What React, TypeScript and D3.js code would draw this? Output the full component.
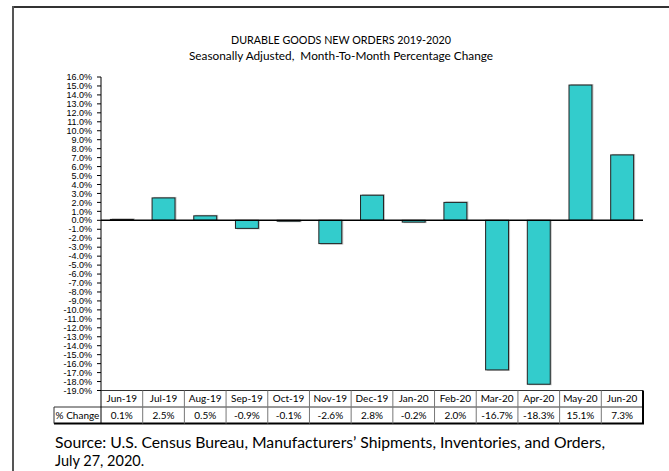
import React from "react";
import * as d3 from "d3";

const months = ["Jun-19","Jul-19","Aug-19","Sep-19","Oct-19","Nov-19","Dec-19","Jan-20","Feb-20","Mar-20","Apr-20","May-20","Jun-20"];
const changes = [0.1, 2.5, 0.5, -0.9, -0.1, -2.6, 2.8, -0.2, 2.0, -16.7, -18.3, 15.1, 7.3];
const yTicks = d3.range(-19, 17, 1);
const title = "DURABLE GOODS NEW ORDERS 2019-2020";
const subtitle = "Seasonally Adjusted,  Month-To-Month Percentage Change";
const rowLabel = "% Change";
const source1 = "Source: U.S. Census Bureau, Manufacturers\u2019 Shipments, Inventories, and Orders,";
const source2 = "July 27, 2020.";

const W = 669, H = 471;
const X0 = 101, X1 = 643;
const YT = 77, YB = 390.5;
const ROW1 = 407, ROW2 = 423.5;
const LABEL_X = 54;

const fmt = (v: number) => (v < 0 ? "-" : "") + Math.abs(v).toFixed(1) + "%";

export default function App() {
  const x = d3.scaleBand<string>().domain(months).range([X0, X1]).paddingInner(0.45).paddingOuter(0.225);
  const xc = d3.scaleBand<string>().domain(months).range([X0, X1]);
  const y = d3.scaleLinear().domain([-19, 16]).range([YB, YT]);
  const font = "Lato, 'Open Sans', sans-serif";
  return (
    <svg width={W} height={H} style={{ position: "absolute", left: 0, top: 0, background: "#fff" }}>
      <rect x={0} y={0} width={W} height={H} fill="#fff" />
      {/* outer frame */}
      <line x1={13} y1={7} x2={W} y2={7} stroke="#333" strokeWidth={1.8} />
      <line x1={13} y1={6} x2={13} y2={H} stroke="#555" strokeWidth={2} />
      <text x={341} y={44} textAnchor="middle" fontFamily={font} fontSize={11} textLength={220} lengthAdjust="spacingAndGlyphs" fill="#000">{title}</text>
      <text x={341} y={60} textAnchor="middle" fontFamily={font} fontSize={11} textLength={304} lengthAdjust="spacingAndGlyphs" fill="#000" style={{ whiteSpace: "pre" }}>{subtitle}</text>
      {/* y axis */}
      <line x1={X0} y1={YT} x2={X0} y2={YB} stroke="#000" strokeWidth={1} />
      {yTicks.map((t) => (
        <g key={t}>
          <line x1={X0 - 4} x2={X0} y1={y(t)} y2={y(t)} stroke="#000" strokeWidth={1} />
          <text x={92} y={y(t)} dy="0.35em" textAnchor="end" fontFamily="'Liberation Sans', Arial, sans-serif" fontSize={9} fill="#000">{fmt(t)}</text>
        </g>
      ))}
      {/* bars */}
      {months.map((m, i) => {
        const v = changes[i];
        const top = y(Math.max(0, v));
        const h = Math.abs(y(v) - y(0));
        return (
          <g key={m}>
            <rect x={(x(m) as number) + 1.5} y={top - (v > 0 ? 1 : 0)} width={x.bandwidth()} height={h + 1} fill="#999" opacity={0.6} />
            <rect x={x(m)} y={top} width={x.bandwidth()} height={h} fill="#33CCCC" stroke="#222" strokeWidth={1} />
          </g>
        );
      })}
      <line x1={X0} x2={X1} y1={y(0)} y2={y(0)} stroke="#000" strokeWidth={1.5} />
      {/* table */}
      <line x1={X0} x2={X1} y1={YB} y2={YB} stroke="#333" strokeWidth={1} />
      <line x1={LABEL_X} x2={X1} y1={ROW1} y2={ROW1} stroke="#333" strokeWidth={1} />
      <line x1={LABEL_X} x2={X1 + 1} y1={ROW2} y2={ROW2} stroke="#000" strokeWidth={2} />
      <line x1={LABEL_X} x2={LABEL_X} y1={ROW1} y2={ROW2} stroke="#333" strokeWidth={1} />
      {months.map((m, i) => (
        <line key={"v" + m} x1={xc(m)} x2={xc(m)} y1={YB} y2={ROW2} stroke={i === 0 ? "#000" : "#777"} strokeWidth={1} />
      ))}
      <line x1={X1} x2={X1} y1={YB} y2={ROW2} stroke="#000" strokeWidth={2} />
      {months.map((m, i) => {
        const cx = (xc(m) as number) + xc.bandwidth() / 2;
        return (
          <g key={"t" + m}>
            <text x={cx} y={(YB + ROW1) / 2} dy="0.35em" textAnchor="middle" fontFamily={font} fontSize={10} fill="#000">{m}</text>
            <text x={cx} y={(ROW1 + ROW2) / 2} dy="0.35em" textAnchor="middle" fontFamily={font} fontSize={10} fill="#000">{fmt(changes[i])}</text>
          </g>
        );
      })}
      <text x={(LABEL_X + X0) / 2} y={(ROW1 + ROW2) / 2} dy="0.35em" textAnchor="middle" fontFamily={font} fontSize={10} fill="#000">{rowLabel}</text>
      {/* source */}
      <text x={55} y={448} fontFamily={font} fontSize={14.5} textLength={550} lengthAdjust="spacingAndGlyphs" fill="#000">{source1}</text>
      <text x={55} y={466} fontFamily={font} fontSize={14.5} fill="#000">{source2}</text>
    </svg>
  );
}
